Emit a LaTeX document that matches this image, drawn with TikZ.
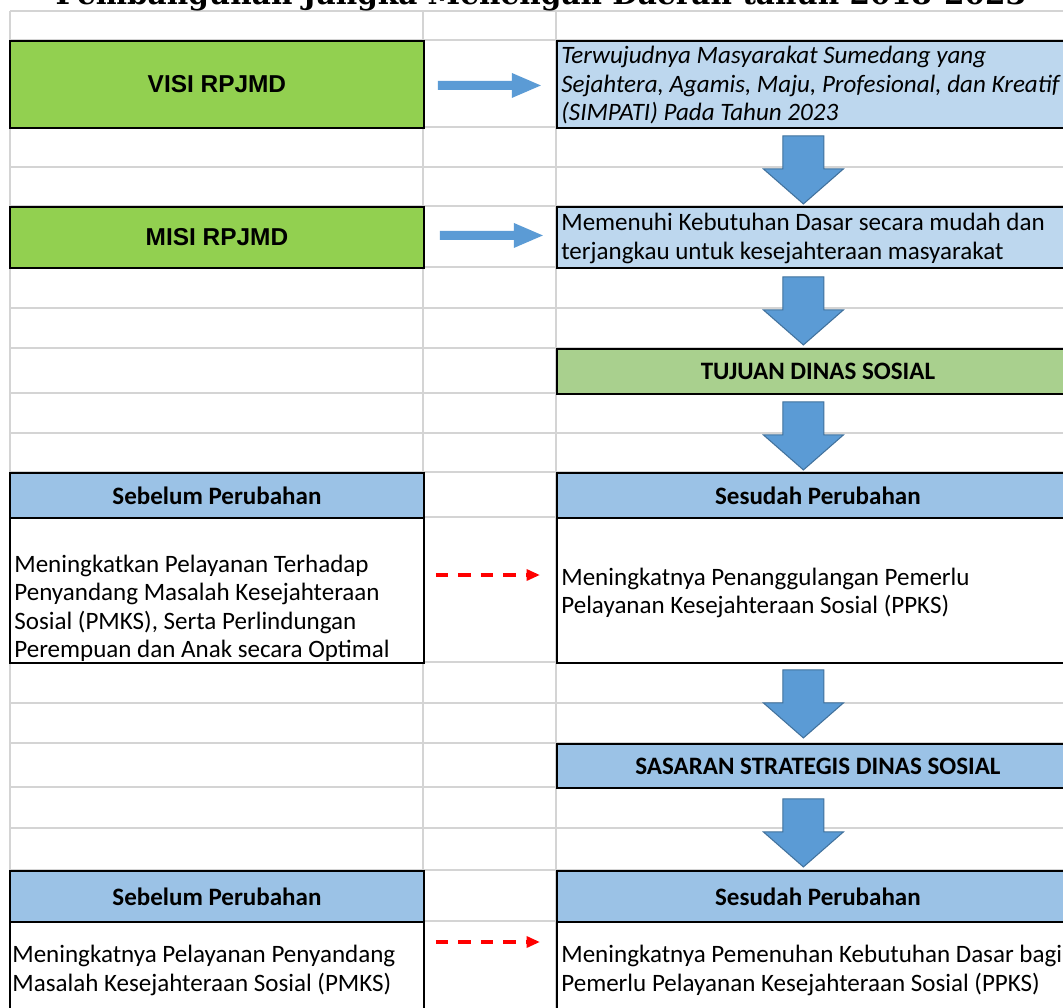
\documentclass[tikz,border=0pt]{standalone}
\usepackage{fontspec}
\setmainfont{Carlito}
\newfontfamily\arialfont{Liberation Sans}
\newfontfamily\titlefont{DejaVu Serif}
\usetikzlibrary{positioning, calc, arrows.meta}
\definecolor{gridgray}{HTML}{D4D4D4}
\definecolor{limegreen}{HTML}{92D050}
\definecolor{sagegreen}{HTML}{A9D08E}
\definecolor{paleblue}{HTML}{BDD7EE}
\definecolor{headblue}{HTML}{9BC2E6}
\definecolor{arrowblue}{HTML}{5B9BD5}
\definecolor{arrowedge}{HTML}{41719C}
\tikzstyle{every node}=[font=\fontsize{14.25}{16.2}\selectfont]
\tikzstyle{cell}=[draw=black, line width=1.1pt, rectangle, inner sep=0pt, anchor=north west]
\tikzstyle{leftcell}=[cell, minimum width=8.28cm]
\tikzstyle{rightcell}=[cell, minimum width=10.44cm]
\tikzstyle{celltext}=[align=left, inner sep=0pt]
\tikzstyle{gridline}=[draw=gridgray, line width=0.9pt]
\tikzstyle{dasharrow}=[draw=red, line width=2pt, dash pattern=on 0.25cm off 0.2cm,
  -{Triangle[length=0.27cm, width=0.22cm]}]
\tikzstyle{titletext}=[anchor=base, inner sep=0pt,
  font=\titlefont\bfseries\fontsize{16.8}{20}\selectfont]
\tikzstyle{rpjmd}=[font=\arialfont\bfseries\fontsize{13.9}{16.2}\selectfont]
% block arrows, started at shaft centre
\newcommand{\rightblock}[1]{\fill[arrowblue] #1 ++(0,-4.5) -- ++(74,0) -- ++(0,-8)
  -- ++(29,12.5) -- ++(-29,12.5) -- ++(0,-8) -- ++(-74,0) -- cycle;}
\newcommand{\downblock}[1]{\filldraw[fill=arrowblue, draw=arrowedge, line width=0.6pt]
  #1 ++(-20.5,0) -- ++(41,0) -- ++(0,33) -- ++(19.5,0) -- ++(-40,35)
  -- ++(-40,-35) -- ++(19.5,0) -- cycle;}

\begin{document}
\begin{tikzpicture}[x=0.02cm, y=-0.02cm]
    \useasboundingbox[fill=white] (0,0) rectangle (1063,1008);
    % sheet grid
    \foreach \y in {11,40,127,167,206,267,308,348,393,433,472,517,662,703,743,787,828,870,921}
        \draw[gridline] (10,\y) -- (1078,\y);
    \foreach \x in {10,423,556}
        \draw[gridline] (\x,11) -- (\x,1015);
    \node[titletext] (title) at (541,4) {Pembangunan Jangka Menengah Daerah tahun 2018-2023};

    % left column
    \node[leftcell, rpjmd, fill=limegreen, minimum height=1.74cm] (visi) at (9,40) {VISI RPJMD};
    \node[leftcell, rpjmd, fill=limegreen, minimum height=1.22cm] (misi) at (9,206) {MISI RPJMD};
    \node[leftcell, fill=headblue, minimum height=0.9cm] (seb1h) at (9,472)
        {\bfseries Sebelum Perubahan};
    \node[leftcell, fill=white, minimum height=2.9cm] (seb1) at (9,517) {};
    \node[leftcell, fill=headblue, minimum height=1.02cm] (seb2h) at (9,870)
        {\bfseries Sebelum Perubahan};
    \node[leftcell, fill=white, minimum height=1.88cm] (seb2) at (9,921) {};

    % right column
    \node[rightcell, fill=paleblue, minimum height=1.74cm] (visiT) at (556,40) {};
    \node[rightcell, fill=paleblue, minimum height=1.22cm] (misiT) at (556,206) {};
    \node[rightcell, fill=sagegreen, minimum height=0.9cm] (tujuan) at (556,348)
        {\bfseries TUJUAN DINAS SOSIAL};
    \node[rightcell, fill=headblue, minimum height=0.9cm] (ses1h) at (556,472)
        {\bfseries Sesudah Perubahan};
    \node[rightcell, fill=white, minimum height=2.9cm] (ses1) at (556,517) {};
    \node[rightcell, fill=headblue, minimum height=0.88cm] (sasaran) at (556,743)
        {\bfseries SASARAN STRATEGIS DINAS SOSIAL};
    \node[rightcell, fill=headblue, minimum height=1.02cm] (ses2h) at (556,870)
        {\bfseries Sesudah Perubahan};
    \node[rightcell, fill=white, minimum height=1.88cm] (ses2) at (556,921) {};

    % texts of the long cells
    \node[celltext, anchor=west] (visiTxt) at ($(visiT.west)+(5,1)$)
        {\itshape Terwujudnya Masyarakat Sumedang yang\\
         \itshape Sejahtera, Agamis, Maju, Profesional, dan Kreatif\\
         \itshape (SIMPATI) Pada Tahun 2023};
    \node[celltext, anchor=west] (misiTxt) at ($(misiT.west)+(5,1)$)
        {Memenuhi Kebutuhan Dasar secara mudah dan\\
         terjangkau untuk kesejahteraan masyarakat};
    \node[celltext, anchor=south west] (seb1Txt) at ($(seb1.south west)+(5,-2)$)
        {Meningkatkan Pelayanan Terhadap\\
         Penyandang Masalah Kesejahteraan\\
         Sosial (PMKS), Serta Perlindungan\\
         Perempuan dan Anak secara Optimal};
    \node[celltext, anchor=west] (ses1Txt) at ($(ses1.west)+(5,2.5)$)
        {Meningkatnya Penanggulangan Pemerlu\\
         Pelayanan Kesejahteraan Sosial (PPKS)};
    \node[celltext, anchor=north west] (seb2Txt) at ($(seb2.north west)+(3,24)$)
        {Meningkatnya Pelayanan Penyandang\\
         Masalah Kesejahteraan Sosial (PMKS)};
    \node[celltext, anchor=north west] (ses2Txt) at ($(ses2.north west)+(5,24)$)
        {Meningkatnya Pemenuhan Kebutuhan Dasar bagi\\
         Pemerlu Pelayanan Kesejahteraan Sosial (PPKS)};

    % connectors
    \rightblock{($(visi.east)+(13,1)$)}
    \rightblock{($(misi.east)+(15,-2)$)}
    \downblock{($(visiT.south)+(-14.5,7)$)}
    \downblock{($(misiT.south)+(-14.5,8)$)}
    \downblock{($(tujuan.south)+(-14.5,7)$)}
    \downblock{($(ses1.south)+(-14.5,6)$)}
    \downblock{($(sasaran.south)+(-14.5,10)$)}
    \draw[dasharrow] ($(seb1.north east)+(11,58)$) -- ($(ses1.north west)+(-16,58)$);
    \draw[dasharrow] ($(seb2.north east)+(11,21)$) -- ($(ses2.north west)+(-16,21)$);
\end{tikzpicture}
\end{document}
